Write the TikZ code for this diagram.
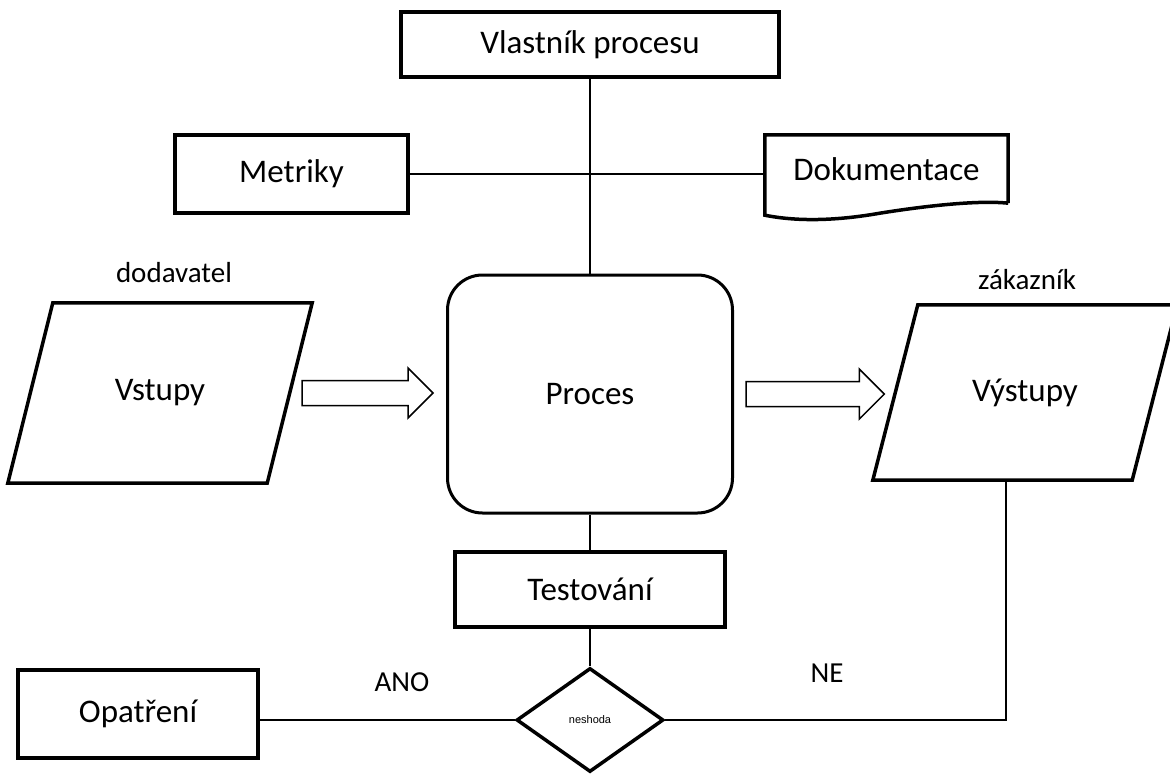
\documentclass[tikz,border=0pt]{standalone}
\usepackage{fontspec}
\setmainfont{Carlito}
\newfontfamily\tinysans{Liberation Sans}
\usetikzlibrary{shapes.geometric,calc}
\tikzset{
  box/.style={draw, line width=3.5pt, inner sep=0pt, font=\fontsize{33}{40}\selectfont},
  plain/.style={inner sep=0pt, font=\fontsize{33}{40}\selectfont},
  lbl/.style={inner sep=0pt, font=\fontsize{29}{35}\selectfont},
  conn/.style={line width=2pt},
  outline/.style={line width=3.5pt, line join=miter},
  barrow/.style={line width=1.5pt, line join=miter}
}
% hollow block arrow between two anchors
\newcommand\blockarrow[2]{%
  \draw[barrow] let \p1=(#1), \p2=(#2) in
    (\x1,\y1+12.5pt) -- (\x2-25pt,\y1+12.5pt) -- (\x2-25pt,\y1+25pt) -- (\x2,\y1)
    -- (\x2-25pt,\y1-25pt) -- (\x2-25pt,\y1-12.5pt) -- (\x1,\y1-12.5pt) -- cycle;}
\begin{document}
\begin{tikzpicture}[x=1pt,y=-1pt]
\useasboundingbox (0,0) rectangle (1170,776);
\node[box, minimum width=378pt, minimum height=65pt] (owner) at (590,44.5) {Vlastník procesu};
\node[box, minimum width=233pt, minimum height=78pt] (met) at (291.5,174) {Metriky};
\node[plain, minimum width=243pt, minimum height=68pt] (doc) at (886.5,169) {Dokumentace};
\draw[outline] (doc.south east) -- (doc.north east) -- (doc.north west)
  -- ([yshift=-12pt]doc.south west)
  .. controls ([xshift=35pt,yshift=-19pt]doc.south west) and ([xshift=75pt,yshift=-17pt]doc.south west)
  .. ([xshift=115pt,yshift=-10pt]doc.south west)
  .. controls ([xshift=165pt,yshift=-2pt]doc.south west) and ([xshift=215pt,yshift=3pt]doc.south west)
  .. (doc.south east);
\node[box, line width=3pt, rounded corners=35pt, minimum width=285pt, minimum height=238pt] (proc) at (590,394) {Proces};
\node[plain, minimum width=259pt, minimum height=180pt] (inp) at (160,393) {Vstupy};
\draw[outline] ([xshift=22.5pt]inp.north west) -- ([xshift=22.5pt]inp.north east)
  -- ([xshift=-22.5pt]inp.south east) -- ([xshift=-22.5pt]inp.south west) -- cycle;
\node[plain, minimum width=259pt, minimum height=175pt] (out) at (1025,392.5) {Výstupy};
\draw[outline] ([xshift=22.5pt]out.north west) -- ([xshift=22.5pt]out.north east)
  -- ([xshift=-22.5pt]out.south east) -- ([xshift=-22.5pt]out.south west) -- cycle;
\node[lbl] (dod) at (174,273) {dodavatel};
\node[lbl] (zak) at (1027,280) {zákazník};
\node[box, minimum width=270pt, minimum height=75pt] (test) at (590,589.5) {Testování};
\node[draw, diamond, line width=3.5pt, inner sep=0pt, aspect=1.4, minimum width=147pt, minimum height=104pt, font=\tinysans\fontsize{11}{13}\selectfont] (dia) at (590,720) {neshoda};
\node[box, minimum width=240pt, minimum height=88pt] (opat) at (138,714) {Opatření};
\node[lbl] (ano) at (402,682) {ANO};
\node[lbl] (ne) at (827,673) {NE};
\draw[conn] (owner) -- (proc);
\draw[conn] (met.east) -- (met.east -| doc.west);
\draw[conn] (proc) -- (test);
\draw[conn] (test) -- (dia);
\draw[conn] (dia.west) -- (dia.west -| opat.east);
\draw[conn] (dia.east) -| ([xshift=-19pt]out.south);
\blockarrow{[xshift=12.5pt]inp.east}{[xshift=-13pt]proc.west}
\blockarrow{[xshift=12pt]proc.east}{[xshift=-11pt]out.west}
\end{tikzpicture}
\end{document}
